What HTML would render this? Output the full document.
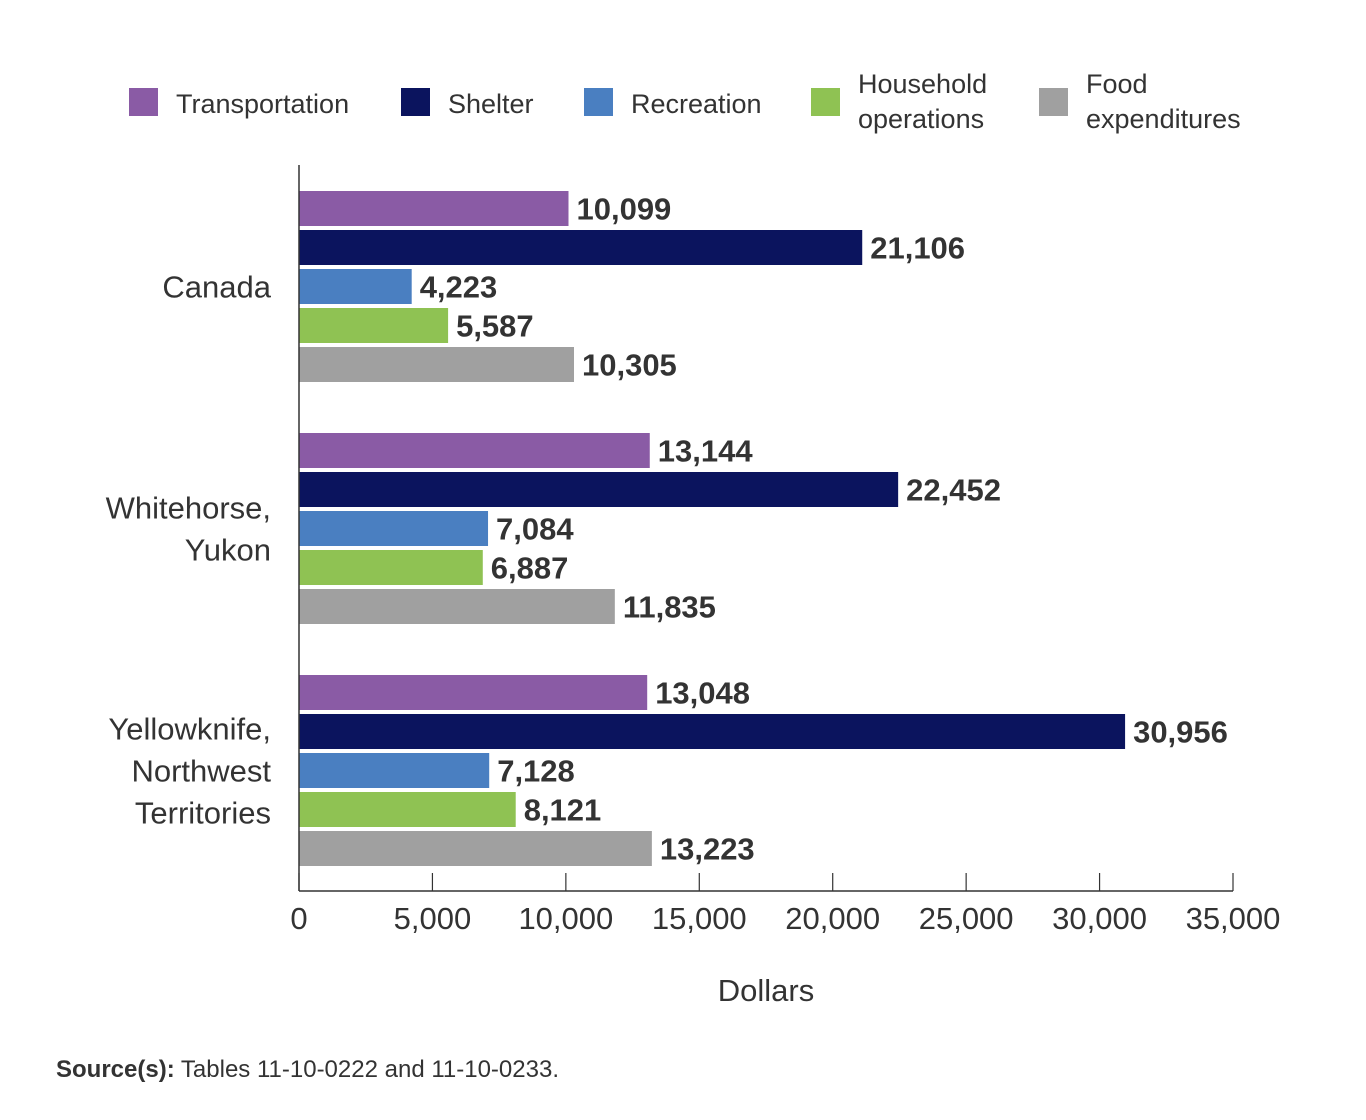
<!DOCTYPE html>
<html><head><meta charset="utf-8"><style>
body{margin:0;background:#fff;width:1366px;height:1115px;overflow:hidden;font-family:"Liberation Sans",sans-serif;}
</style></head><body>
<svg id="chart" width="1366" height="1115" xmlns="http://www.w3.org/2000/svg" font-family="Liberation Sans, sans-serif">
<g font-size="27" fill="#333">
<g><rect x="129" y="88" width="29" height="28" fill="#8a5ba5"/><text x="176" y="113">Transportation</text></g>
<g><rect x="401" y="88" width="29" height="28" fill="#0b145e"/><text x="448" y="113">Shelter</text></g>
<g><rect x="584" y="88" width="29" height="28" fill="#4a7fc1"/><text x="631" y="113">Recreation</text></g>
<g><rect x="811" y="88" width="29" height="28" fill="#8fc253"/><text x="858" y="93">Household</text><text x="858" y="128">operations</text></g>
<g><rect x="1039" y="88" width="29" height="28" fill="#a0a0a0"/><text x="1086" y="93">Food</text><text x="1086" y="128">expenditures</text></g>
</g>
<g id="bars"></g>
<g id="axes"></g>
<text x="766" y="1001" font-size="31" fill="#333" text-anchor="middle">Dollars</text>
<text x="56" y="1077" font-size="24" fill="#333"><tspan font-weight="bold">Source(s):</tspan> Tables 11-10-0222 and 11-10-0233.</text>
</svg>
<script>
const categories = [["Canada"],["Whitehorse,","Yukon"],["Yellowknife,","Northwest","Territories"]];
const seriesNames = ["transportation","shelter","recreation","household-operations","food-expenditures"];
const transportation = [10099,13144,13048];
const shelter = [21106,22452,30956];
const recreation = [4223,7084,7128];
const household = [5587,6887,8121];
const food = [10305,11835,13223];
const ticks = [0,5000,10000,15000,20000,25000,30000,35000];
const tickLabels = ["0","5,000","10,000","15,000","20,000","25,000","30,000","35,000"];

const colors = ["#8a5ba5","#0b145e","#4a7fc1","#8fc253","#a0a0a0"];
const series = [transportation,shelter,recreation,household,food];
const NS = "http://www.w3.org/2000/svg";
const x0 = 299, x1 = 1233, xMax = 35000;
function xs(v){ return x0 + (v / xMax) * (x1 - x0); }
function groupTop(i){ return 191 + i * 242; }
function barY(i,s){ return groupTop(i) + s * 39; }
const barH = 35;
const bars = document.getElementById("bars");
const axes = document.getElementById("axes");
function mk(tag, attrs){ const e = document.createElementNS(NS, tag); for (const k in attrs) e.setAttribute(k, attrs[k]); return e; }

categories.forEach((cat, i) => {
  series.forEach((arr, s) => {
    const r = mk("rect", {x: x0, y: barY(i,s), width: xs(arr[i]) - x0, height: barH, fill: colors[s]});
    
    
    bars.appendChild(r);
    const t = mk("text", {x: xs(arr[i]) + 8, y: barY(i,s) + barH/2 + 11, "font-size": 31, "font-weight": "bold", fill: "#333"});
    t.textContent = arr[i].toLocaleString("en-US");
    
    
    bars.appendChild(t);
  });
  const cy = groupTop(i) + (4 * 39 + barH) / 2;
  const lh = 42;
  cat.forEach((line, k) => {
    const t = mk("text", {x: 271, y: cy + 11 + (k - (cat.length - 1) / 2) * lh, "font-size": 31, fill: "#333", "text-anchor": "end"});
    t.textContent = line;
    
    
    axes.appendChild(t);
  });
});
const yAxis = mk("line", {x1: x0, y1: 165, x2: x0, y2: 891, stroke: "#333", "stroke-width": 1.5});


axes.appendChild(yAxis);
const xAxis = mk("line", {x1: x0, y1: 891, x2: x1, y2: 891, stroke: "#333", "stroke-width": 1.5});


axes.appendChild(xAxis);
ticks.forEach((v, j) => {
  const tk = mk("line", {x1: xs(v), y1: 873, x2: xs(v), y2: 891, stroke: "#333", "stroke-width": 1.2});
  
  
  axes.appendChild(tk);
  const t = mk("text", {x: xs(v), y: 929, "font-size": 31, fill: "#333", "text-anchor": "middle"});
  t.textContent = tickLabels[j];
  
  
  axes.appendChild(t);
});
</script>
</body></html>
